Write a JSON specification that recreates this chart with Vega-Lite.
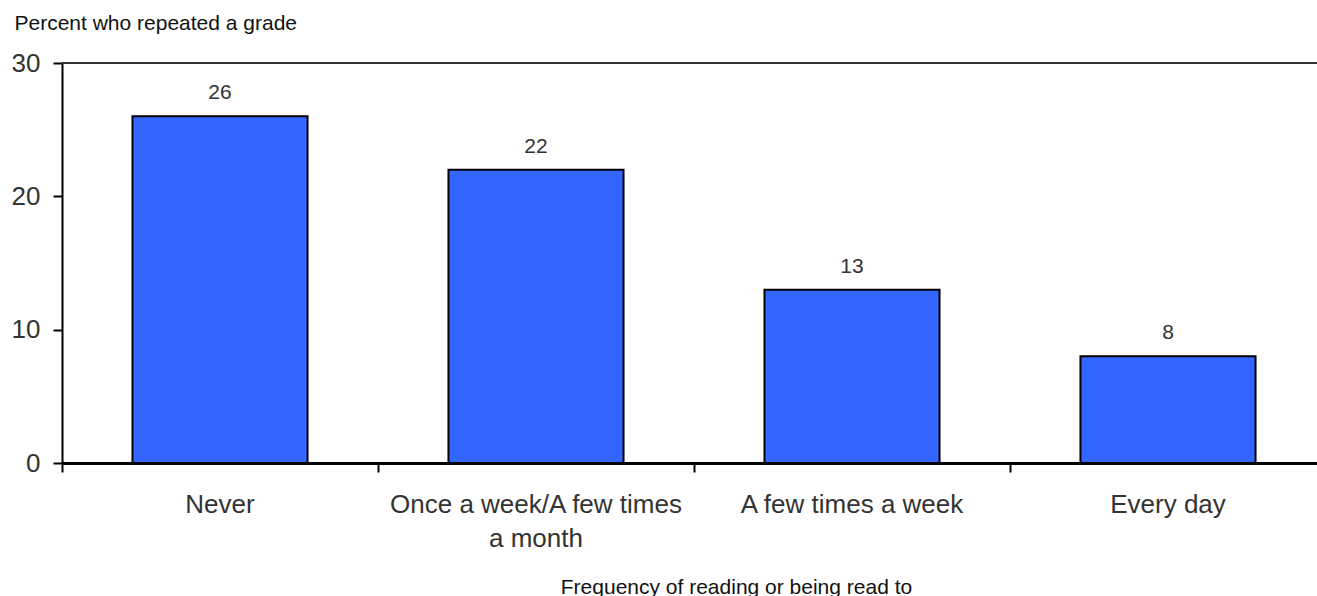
{
  "$schema": "https://vega.github.io/schema/vega-lite/v6.json",
  "width": 1264,
  "height": 400,
  "autosize": {"type": "none"},
  "padding": {"left": 62, "top": 63, "right": -9, "bottom": 133},
  "background": "white",
  "config": {
    "view": {"stroke": null},
    "font": "Liberation Sans"
  },
  "data": {
    "values": [
      {"frequency": "Never", "percent": 26},
      {"frequency": "Once a week/A few times a month", "percent": 22},
      {"frequency": "A few times a week", "percent": 13},
      {"frequency": "Every day", "percent": 8}
    ]
  },
  "encoding": {
    "x": {
      "field": "frequency",
      "type": "nominal",
      "sort": null,
      "scale": {"paddingInner": 0, "paddingOuter": 0},
      "axis": {
        "bandPosition": 0,
        "grid": false,
        "domainColor": "black",
        "domainWidth": 3,
        "tickColor": "black",
        "tickWidth": 2,
        "tickSize": 9,
        "labelAngle": 0,
        "labelFontSize": 26,
        "labelColor": "#333333",
        "labelBaseline": "alphabetic",
        "labelPadding": 40,
        "labelLineHeight": 34,
        "labelLimit": 500,
        "labelOverlap": false,
        "labelExpr": "datum.value == 'Once a week/A few times a month' ? ['Once a week/A few times', 'a month'] : datum.label",
        "title": "Frequency of reading or being read to",
        "titleFontSize": 21,
        "titleFontWeight": "normal",
        "titleColor": "#111111",
        "titleX": 674,
        "titleY": 130,
        "titleAlign": "center",
        "titleBaseline": "alphabetic"
      }
    },
    "y": {
      "field": "percent",
      "type": "quantitative",
      "scale": {"domain": [0, 30], "nice": false},
      "axis": {
        "values": [0, 10, 20, 30],
        "grid": false,
        "domainColor": "black",
        "domainWidth": 2,
        "tickColor": "black",
        "tickWidth": 2,
        "tickSize": 9,
        "labelFontSize": 26,
        "labelColor": "#333333",
        "labelPadding": 13,
        "title": "Percent who repeated a grade",
        "titleAngle": 0,
        "titleAlign": "left",
        "titleBaseline": "alphabetic",
        "titleX": -48,
        "titleY": -34,
        "titleFontSize": 21,
        "titleFontWeight": "normal",
        "titleColor": "#111111"
      }
    }
  },
  "layer": [
    {
      "mark": {"type": "rule", "color": "#333333", "strokeWidth": 2},
      "encoding": {"y": {"datum": 30}, "x": {"value": 0}, "x2": {"value": 1264}}
    },
    {
      "mark": {
        "type": "bar",
        "width": {"band": 0.554},
        "color": "#3366FF",
        "stroke": "black",
        "strokeWidth": 2
      }
    },
    {
      "mark": {
        "type": "text",
        "baseline": "alphabetic",
        "dy": -17,
        "fontSize": 21,
        "color": "#333333"
      },
      "encoding": {"text": {"field": "percent", "type": "quantitative"}}
    }
  ]
}
